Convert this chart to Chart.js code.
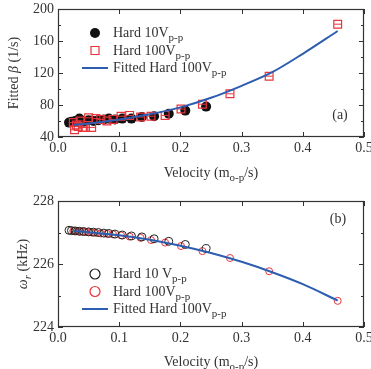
<!DOCTYPE html>
<html lang="en">
<head>
<meta charset="UTF-8">
<title>Fitted beta and resonance frequency vs velocity</title>
<script src="https://cdn.jsdelivr.net/npm/chart.js"></script>
<style>
    body { margin: 0; background: #fff; }
    .panel { position: absolute; left: 0; }
    #panelA { top: 0; }
    #panelB { top: 185px; }
</style>
</head>
<body>
<div class="panel" id="panelA"><canvas id="betaChart" width="371" height="185"></canvas></div>
<div class="panel" id="panelB"><canvas id="omegaChart" width="371" height="184"></canvas></div>

<script>
// Hard 10 Vp-p measurements
const velHard10   = [0.018, 0.022, 0.028, 0.035, 0.042, 0.050, 0.058, 0.066, 0.075, 0.083, 0.093, 0.105, 0.120, 0.137, 0.157, 0.181, 0.208, 0.242];
const betaHard10  = [58, 59, 60, 63, 59, 61, 60, 61, 62, 63, 62, 63, 63, 65, 66, 69, 73, 78];
const omegaHard10 = [227.07, 227.06, 227.05, 227.04, 227.03, 227.02, 227.01, 227.00, 226.98, 226.97, 226.95, 226.92, 226.89, 226.86, 226.80, 226.72, 226.62, 226.49];

// Hard 100 Vp-p measurements
const velHard100   = [0.025, 0.027, 0.030, 0.033, 0.036, 0.040, 0.045, 0.050, 0.055, 0.062, 0.070, 0.080, 0.090, 0.103, 0.117, 0.135, 0.152, 0.175, 0.201, 0.236, 0.281, 0.345, 0.457];
const betaHard100  = [58, 49, 55, 53, 60, 52, 52, 64, 52, 63, 62, 60, 62, 66, 67, 65, 66, 67, 75, 81, 94, 116, 181];
const omegaHard100 = [227.05, 227.05, 227.04, 227.04, 227.03, 227.03, 227.02, 227.01, 227.00, 226.99, 226.97, 226.96, 226.94, 226.91, 226.87, 226.83, 226.76, 226.68, 226.57, 226.41, 226.19, 225.77, 224.83];

// fitted curves
const velFit   = [0.025, 0.05, 0.1, 0.15, 0.2, 0.25, 0.3, 0.35, 0.4, 0.457];
const betaFit  = [55, 57, 62, 68.5, 77, 89, 104, 121, 144, 172.5];
const omegaFit = [227.05, 227.01, 226.91, 226.77, 226.58, 226.35, 226.07, 225.74, 225.36, 224.84];

// axis ticks
const velocityTicks = [0, 0.1, 0.2, 0.3, 0.4, 0.5];
const betaTicks = [40, 60, 80, 100, 120, 140, 160, 180, 200];
const betaLabels = [40, 80, 120, 160, 200];
const omegaTicks = [224, 225, 226, 227, 228];
const omegaLabels = [224, 226, 228];

const SERIF = '"Liberation Serif", "Times New Roman", serif';
const INK = '#333';
const RED = '#e8353b';
const BLUE = '#2d5db0';

const xy = (xs, ys) => xs.map((x, i) => ({ x: x, y: ys[i] }));

// text with subscripts / italics, drawn on the canvas
function partFont(p, size) {
    const s = p.sub ? Math.round(size * 0.8) : size;
    return (p.it ? 'italic ' : '') + s + 'px ' + SERIF;
}
function richWidth(ctx, parts, size) {
    let w = 0;
    parts.forEach(p => { ctx.font = partFont(p, size); w += ctx.measureText(p.t).width; });
    return w;
}
function drawRich(ctx, parts, x, y, size, align) {
    let cx = x;
    if (align === 'center') cx = x - richWidth(ctx, parts, size) / 2;
    ctx.textBaseline = 'alphabetic';
    ctx.textAlign = 'left';
    parts.forEach(p => {
        ctx.font = partFont(p, size);
        ctx.fillText(p.t, cx, p.sub ? y + size * 0.3 : y);
        cx += ctx.measureText(p.t).width;
    });
}

function drawMarker(ctx, kind, color, x, y) {
    ctx.save();
    ctx.strokeStyle = color;
    ctx.fillStyle = color;
    ctx.lineWidth = kind === 'line' ? 2 : 1.2;
    ctx.beginPath();
    if (kind === 'dot') { ctx.arc(x, y, 5, 0, Math.PI * 2); ctx.fill(); }
    if (kind === 'ring') { ctx.arc(x, y, 5, 0, Math.PI * 2); ctx.stroke(); }
    if (kind === 'square') { ctx.rect(x - 4, y - 4, 8, 8); ctx.stroke(); }
    if (kind === 'line') { ctx.moveTo(x - 13, y); ctx.lineTo(x + 13, y); ctx.stroke(); }
    ctx.restore();
}

// frame, inward ticks, titles, legend and panel label
const framePlugin = {
    id: 'frame',
    afterDraw(chart, args, o) {
        const ctx = chart.ctx;
        const { left, right, top, bottom } = chart.chartArea;
        const xs = chart.scales.x, ys = chart.scales.y;
        ctx.save();
        ctx.strokeStyle = INK;
        ctx.lineWidth = 1;
        ctx.beginPath();
        xs.ticks.forEach(t => {
            const px = Math.round(xs.getPixelForValue(t.value)) + 0.5;
            ctx.moveTo(px, bottom); ctx.lineTo(px, bottom - 5);
            ctx.moveTo(px, top); ctx.lineTo(px, top + 5);
        });
        ys.ticks.forEach(t => {
            const py = Math.round(ys.getPixelForValue(t.value)) + 0.5;
            const len = t.label === '' ? 3 : 5;
            ctx.moveTo(left, py); ctx.lineTo(left + len, py);
            ctx.moveTo(right, py); ctx.lineTo(right - len, py);
        });
        ctx.stroke();
        ctx.lineWidth = 1.2;
        ctx.strokeRect(left + 0.5, top + 0.5, right - left - 1, bottom - top - 1);

        ctx.fillStyle = INK;
        drawRich(ctx, o.xTitle, (left + right) / 2, o.xTitleY, 14, 'center');

        ctx.save();
        ctx.translate(o.yTitleX, (top + bottom) / 2);
        ctx.rotate(-Math.PI / 2);
        drawRich(ctx, o.yTitle, 0, 0, 14, 'center');
        ctx.restore();

        ctx.font = '14px ' + SERIF;
        ctx.textAlign = 'center';
        ctx.textBaseline = 'middle';
        ctx.fillText(o.panel, o.panelX, o.panelY);

        o.legend.forEach((item, i) => {
            const y = o.legendY + i * 17.5;
            drawMarker(ctx, item.kind, item.color, 95, y);
            ctx.fillStyle = INK;
            drawRich(ctx, item.parts, 113, y + 4, 14, 'left');
        });
        ctx.restore();
    }
};

function xScale(titleHeight) {
    return {
        type: 'linear', min: 0, max: 0.5,
        grid: { display: false, drawTicks: false }, border: { display: false },
        afterBuildTicks: s => { s.ticks = velocityTicks.map(v => ({ value: v })); },
        ticks: { autoSkip: false, padding: 3, color: INK, font: { family: SERIF, size: 14 },
                 callback: v => v.toFixed(1) },
        afterFit: s => { s.height = titleHeight; s.paddingLeft = 0; s.paddingRight = 0; }
    };
}
function yScale(min, max, tickList, labelList) {
    return {
        type: 'linear', min: min, max: max,
        grid: { display: false, drawTicks: false }, border: { display: false },
        afterBuildTicks: s => { s.ticks = tickList.map(v => ({ value: v })); },
        ticks: { autoSkip: false, padding: 4, color: INK, font: { family: SERIF, size: 14 },
                 callback: v => labelList.includes(v) ? String(v) : '' },
        afterFit: s => { s.width = 58; s.paddingTop = 0; s.paddingBottom = 0; }
    };
}

const sub = t => ({ t: t, sub: true });

// (a) fitted beta
new Chart(document.getElementById('betaChart'), {
    type: 'scatter',
    data: {
        datasets: [
            { label: 'Fitted Hard 100Vp-p', data: xy(velFit, betaFit), showLine: true,
              borderColor: BLUE, borderWidth: 2, pointRadius: 0, cubicInterpolationMode: 'monotone', order: 0 },
            { label: 'Hard 100Vp-p bar', data: xy(velHard100, betaHard100), pointStyle: 'line',
              pointRadius: 3.5, borderColor: RED, borderWidth: 1, order: 1 },
            { label: 'Hard 100Vp-p', data: xy(velHard100, betaHard100), pointStyle: 'rect',
              pointRadius: 5.5, borderColor: RED, backgroundColor: 'rgba(255,255,255,0)', borderWidth: 1.2, order: 2 },
            { label: 'Hard 10Vp-p', data: xy(velHard10, betaHard10), pointStyle: 'circle',
              pointRadius: 5, borderColor: '#111', backgroundColor: '#111', borderWidth: 0, order: 3 }
        ]
    },
    options: {
        responsive: false, animation: false, events: [],
        layout: { padding: { top: 9, right: 7, left: 0, bottom: 0 } },
        plugins: {
            legend: { display: false }, tooltip: { enabled: false },
            frame: {
                xTitle: [{ t: 'Velocity (m' }, sub('o-p'), { t: '/s)' }], xTitleY: 177,
                yTitle: [{ t: 'Fitted ' }, { t: 'β', it: true }, { t: ' (1/s)' }], yTitleX: 18,
                panel: '(a)', panelX: 340, panelY: 115,
                legendY: 33,
                legend: [
                    { kind: 'dot', color: '#111', parts: [{ t: 'Hard 10V' }, sub('p-p')] },
                    { kind: 'square', color: RED, parts: [{ t: 'Hard 100V' }, sub('p-p')] },
                    { kind: 'line', color: BLUE, parts: [{ t: 'Fitted Hard 100V' }, sub('p-p')] }
                ]
            }
        },
        scales: { x: xScale(48), y: yScale(40, 200, betaTicks, betaLabels) }
    },
    plugins: [framePlugin]
});

// (b) resonance frequency
new Chart(document.getElementById('omegaChart'), {
    type: 'scatter',
    data: {
        datasets: [
            { label: 'Fitted Hard 100Vp-p', data: xy(velFit, omegaFit), showLine: true,
              borderColor: BLUE, borderWidth: 2, pointRadius: 0, cubicInterpolationMode: 'monotone', order: 0 },
            { label: 'Hard 10 Vp-p', data: xy(velHard10, omegaHard10), pointStyle: 'circle',
              pointRadius: 4, borderColor: '#222', backgroundColor: 'rgba(255,255,255,0)', borderWidth: 1, order: 1 },
            { label: 'Hard 100Vp-p', data: xy(velHard100, omegaHard100), pointStyle: 'circle',
              pointRadius: 3.5, borderColor: RED, backgroundColor: 'rgba(255,255,255,0)', borderWidth: 1, order: 2 }
        ]
    },
    options: {
        responsive: false, animation: false, events: [],
        layout: { padding: { top: 16, right: 7, left: 0, bottom: 0 } },
        plugins: {
            legend: { display: false }, tooltip: { enabled: false },
            frame: {
                xTitle: [{ t: 'Velocity (m' }, sub('o-p'), { t: '/s)' }], xTitleY: 181,
                yTitle: [{ t: 'ω', it: true }, { t: 'r', it: true, sub: true }, { t: ' (kHz)' }], yTitleX: 27,
                panel: '(b)', panelX: 338, panelY: 34,
                legendY: 89,
                legend: [
                    { kind: 'ring', color: '#222', parts: [{ t: 'Hard 10 V' }, sub('p-p')] },
                    { kind: 'ring', color: RED, parts: [{ t: 'Hard 100V' }, sub('p-p')] },
                    { kind: 'line', color: BLUE, parts: [{ t: 'Fitted Hard 100V' }, sub('p-p')] }
                ]
            }
        },
        scales: { x: xScale(42), y: yScale(224, 228, omegaTicks, omegaLabels) }
    },
    plugins: [framePlugin]
});
</script>
</body>
</html>
